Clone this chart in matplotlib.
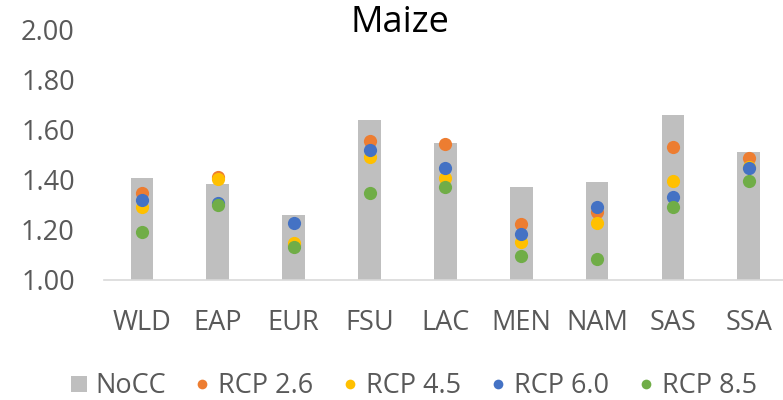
import matplotlib
matplotlib.use("Agg")
import matplotlib.pyplot as plt
from matplotlib.lines import Line2D
import numpy as np

plt.rcParams['font.family'] = ['Open Sans', 'DejaVu Sans']

regions = ['WLD', 'EAP', 'EUR', 'FSU', 'LAC', 'MEN', 'NAM', 'SAS', 'SSA']
nocc = [1.405, 1.381, 1.259, 1.637, 1.545, 1.369, 1.390, 1.656, 1.509]
rcp26 = [1.348, 1.409, 1.140, 1.555, 1.541, 1.223, 1.272, 1.529, 1.485]
rcp45 = [1.292, 1.402, 1.146, 1.491, 1.408, 1.150, 1.228, 1.396, 1.450]
rcp60 = [1.319, 1.306, 1.227, 1.518, 1.447, 1.182, 1.290, 1.329, 1.447]
rcp85 = [1.192, 1.299, 1.130, 1.345, 1.369, 1.096, 1.085, 1.290, 1.396]

series = [('RCP 2.6', rcp26, '#ED7D31'),
          ('RCP 4.5', rcp45, '#FFC000'),
          ('RCP 6.0', rcp60, '#4472C4'),
          ('RCP 8.5', rcp85, '#70AD47')]

fig = plt.figure(figsize=(7.83, 4.0), dpi=100)
ax = fig.add_axes([0.1328, 0.30, 0.872, 0.6275])

x = np.arange(len(regions))
ax.bar(x, np.array(nocc) - 1.0, bottom=1.0, width=0.30, color='#BFBFBF', zorder=2)
for name, vals, col in series:
    ax.plot(x, vals, 'o', color=col, markersize=9.5, markeredgewidth=0, zorder=3)

ax.set_xlim(-0.5, 8.5)
ax.set_ylim(1.0, 2.0)
ax.set_yticks([1.0, 1.2, 1.4, 1.6, 1.8, 2.0])
ax.set_yticklabels(['%.2f' % v for v in [1.0, 1.2, 1.4, 1.6, 1.8, 2.0]])
ax.set_xticks(x)
ax.set_xticklabels(regions)
ax.tick_params(axis='both', length=0, labelsize=19.5, colors='#595959')
ax.tick_params(axis='y', pad=21)
ax.tick_params(axis='x', pad=21)
for s in ['left', 'right', 'top']:
    ax.spines[s].set_visible(False)
ax.spines['bottom'].set_color('#D9D9D9')
ax.spines['bottom'].set_linewidth(1.2)

fig.text(0.511, 0.942, 'Maize', ha='center', va='center', fontsize=26, color='black')

handles = [Line2D([], [], marker='s', linestyle='', color='#BFBFBF', markersize=12, markeredgewidth=0)]
for name, vals, col in series:
    handles.append(Line2D([], [], marker='o', linestyle='', color=col, markersize=7, markeredgewidth=0))
labels = ['NoCC'] + [s[0] for s in series]
leg = fig.legend(handles, labels, loc='center', bbox_to_anchor=(0.526, 0.035), ncol=5,
                 frameon=False, fontsize=19.5, handletextpad=0.15, columnspacing=0.9,
                 handlelength=0.9)
for t in leg.get_texts():
    t.set_color('#595959')

fig.savefig('out.png', dpi=100)
